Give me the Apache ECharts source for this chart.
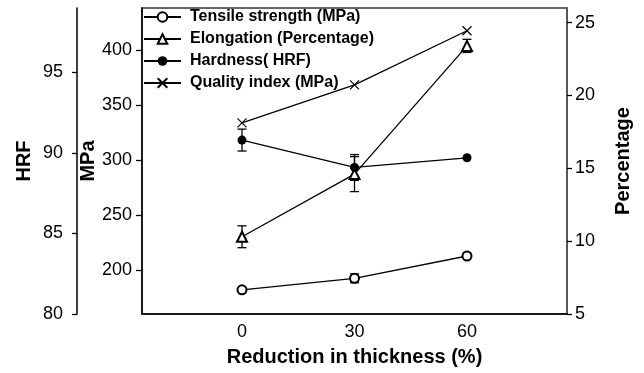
<!DOCTYPE html>
<html>
<head>
<meta charset="utf-8">
<script src="https://cdn.jsdelivr.net/npm/echarts@6/dist/echarts.min.js"></script>
<style>
html, body { margin: 0; padding: 0; background: #fff; }
#main { width: 644px; height: 373px; }
</style>
</head>
<body>
<div id="main"></div>
<script>
// 数据
var xVals = [0, 30, 60];
var xTicks = [0, 30, 60];
var mpaTicks = [200, 250, 300, 350, 400];
var tensile = [182, 192.4, 212.7];
var tensileErr = [0, 4, 0];
var elong = [10.3, 14.6, 23.4];
var elongErr = [0.75, 1.2, 0.45];
var hard = [90.8, 89.1, 89.7];
var hardErr = [0.68, 0.8, 0];
var quality = [333.6, 368.2, 417.3];

var names = ['Tensile strength (MPa)', 'Elongation (Percentage)', 'Hardness( HRF)', 'Quality index (MPa)'];

var myChart = echarts.init(document.getElementById('main'));
var font = 'Liberation Sans, Arial, sans-serif';

function pairs(vals) {
    return xVals.map(function (x, i) { return [x, vals[i]]; });
}
function errData(vals, errs) {
    var out = [];
    xVals.forEach(function (x, i) {
        if (errs[i] > 0) out.push([x, vals[i] - errs[i], vals[i] + errs[i]]);
    });
    return out;
}
function errRender(params, api) {
    var lo = api.coord([api.value(0), api.value(1)]);
    var hi = api.coord([api.value(0), api.value(2)]);
    var w = 4.5;
    var st = { stroke: '#000', lineWidth: 1.3 };
    return {
        type: 'group',
        children: [
            { type: 'line', shape: { x1: lo[0], y1: lo[1], x2: hi[0], y2: hi[1] }, style: st },
            { type: 'line', shape: { x1: lo[0] - w, y1: lo[1], x2: lo[0] + w, y2: lo[1] }, style: st },
            { type: 'line', shape: { x1: hi[0] - w, y1: hi[1], x2: hi[0] + w, y2: hi[1] }, style: st }
        ]
    };
}
function errSeries(vals, errs, yIdx) {
    return {
        type: 'custom',
        yAxisIndex: yIdx,
        renderItem: errRender,
        data: errData(vals, errs),
        silent: true,
        z: 1
    };
}

var axisTxt = { color: '#000', fontSize: 18, fontFamily: font };
var nameTxt = { color: '#000', fontSize: 20, fontWeight: 'bold', fontFamily: font };

option = {
    animation: false,
    grid: {
        left: 142, right: 77, top: 8, bottom: 59,
        show: true, borderColor: '#333', borderWidth: 1.5
    },
    legend: {
        data: names,
        orient: 'vertical',
        left: 143, top: 9, padding: 0,
        itemWidth: 37, itemHeight: 12, itemGap: 6,
        textStyle: { color: '#000', fontSize: 16, lineHeight: 16, fontWeight: 'bold', fontFamily: font, padding: [0, 0, 0, 4] }
    },
    xAxis: {
        type: 'value',
        min: -26.67, max: 86.67,
        name: 'Reduction in thickness (%)',
        nameLocation: 'middle', nameGap: 33,
        nameTextStyle: nameTxt,
        axisLine: { onZero: false, lineStyle: { color: '#000', width: 1.5 } },
        axisTick: { show: false },
        splitLine: { show: false },
        axisLabel: Object.assign({ customValues: xTicks, margin: 9 }, axisTxt)
    },
    yAxis: [
        {
            type: 'value', min: 160, max: 438, position: 'left',
            name: 'MPa', nameLocation: 'middle', nameGap: 44, nameRotate: 90,
            nameMoveOverlap: false,
            nameTextStyle: nameTxt,
            axisLine: { show: true, onZero: false, lineStyle: { color: '#000', width: 1.5 } },
            axisTick: { show: true, customValues: mpaTicks, length: 6, lineStyle: { color: '#000', width: 1.3 } },
            axisLabel: Object.assign({ customValues: mpaTicks, margin: 10 }, axisTxt),
            splitLine: { show: false }
        },
        {
            type: 'value', min: 80, max: 99, interval: 5, position: 'left', offset: 65,
            name: 'HRF', nameLocation: 'middle', nameGap: 43, nameRotate: 90,
            nameMoveOverlap: false,
            nameTextStyle: nameTxt,
            axisLine: { show: true, onZero: false, lineStyle: { color: '#000', width: 1.5 } },
            axisTick: { show: true, length: 5, lineStyle: { color: '#000', width: 1.3 } },
            axisLabel: Object.assign({ margin: 14, showMaxLabel: false }, axisTxt),
            splitLine: { show: false }
        },
        {
            type: 'value', min: 5, max: 26, interval: 5, position: 'right',
            name: 'Percentage', nameLocation: 'middle', nameGap: 46, nameRotate: 90,
            nameMoveOverlap: false,
            nameTextStyle: nameTxt,
            axisLine: { show: true, onZero: false, lineStyle: { color: '#555', width: 1.5 } },
            axisTick: { show: true, length: 5, lineStyle: { color: '#000', width: 1.3 } },
            axisLabel: Object.assign({ margin: 8, showMaxLabel: false }, axisTxt),
            splitLine: { show: false }
        }
    ],
    series: [
        {
            name: names[0], type: 'line', yAxisIndex: 0,
            data: pairs(tensile),
            symbol: 'emptyCircle', symbolSize: 9,
            lineStyle: { color: '#000', width: 1.3 },
            itemStyle: { color: '#000', borderWidth: 1.3 },
            z: 3
        },
        {
            name: names[1], type: 'line', yAxisIndex: 2,
            data: pairs(elong),
            symbol: 'emptyTriangle', symbolSize: 10,
            lineStyle: { color: '#000', width: 1.3 },
            itemStyle: { color: '#000', borderWidth: 1.3 },
            z: 3
        },
        {
            name: names[2], type: 'line', yAxisIndex: 1,
            data: pairs(hard),
            symbol: 'circle', symbolSize: 9,
            lineStyle: { color: '#000', width: 1.3 },
            itemStyle: { color: '#000' },
            z: 4
        },
        {
            name: names[3], type: 'line', yAxisIndex: 0,
            data: pairs(quality),
            symbol: 'path://M0,0 L10,10 M10,0 L0,10', symbolSize: 9,
            lineStyle: { color: '#000', width: 1.3 },
            itemStyle: { color: '#000', borderColor: '#000', borderWidth: 1.2 },
            z: 3
        },
        errSeries(tensile, tensileErr, 0),
        errSeries(elong, elongErr, 2),
        errSeries(hard, hardErr, 1)
    ]
};
myChart.setOption(option);
</script>
</body>
</html>
